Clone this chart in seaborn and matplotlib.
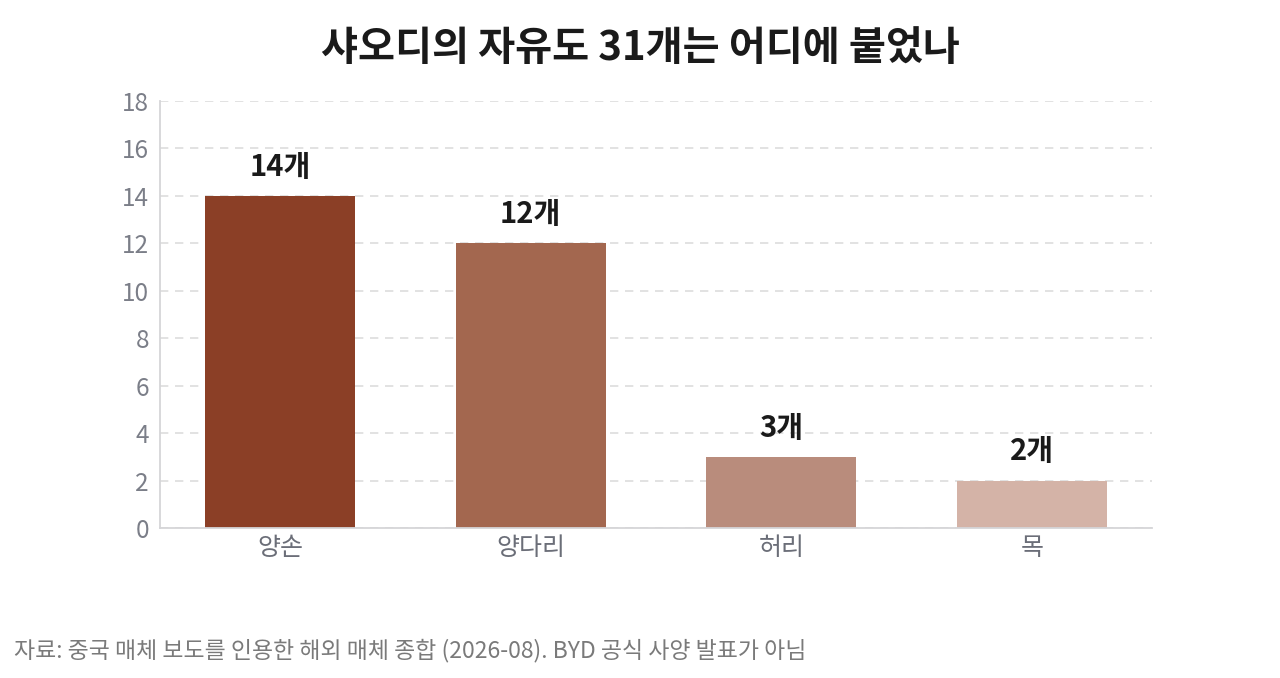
import matplotlib
matplotlib.use('Agg')
import matplotlib.pyplot as plt
import seaborn as sns
import pandas as pd

# Data
parts = ['양손', '양다리', '허리', '목']
counts = [14, 12, 3, 2]
colors = ['#8B3F26', '#A3674F', '#B98C7C', '#D4B3A7']
yticks = [0, 2, 4, 6, 8, 10, 12, 14, 16, 18]

df = pd.DataFrame({'part': parts, 'count': counts})

sns.set_theme(style='white')
plt.rcParams['font.family'] = ['Noto Sans CJK KR', 'DejaVu Sans']

fig = plt.figure(figsize=(12.8, 6.78), dpi=100)
ax = fig.add_axes([0.125, 0.2212, 0.775, 0.6298])

sns.barplot(data=df, x='part', y='count', hue='part', palette=colors,
            width=0.6, legend=False, ax=ax, saturation=1, linewidth=0, zorder=2)

ax.set_xlim(-0.48, 3.48)
ax.set_ylim(0, 18)
ax.set_yticks(yticks)
ax.yaxis.grid(True, linestyle=(0, (5, 4)), color='#DDDDDD', linewidth=1.2, zorder=0)
ax.set_axisbelow(True)

for i, v in enumerate(counts):
    ax.text(i, v + 0.6, f'{v}개', ha='center', va='bottom',
            fontsize=21, fontweight='bold', color='#1a1a1a')

ax.set_xlabel('')
ax.set_ylabel('')
ax.tick_params(axis='x', labelsize=18, colors='#6B6E78', length=0, pad=5)
ax.tick_params(axis='y', labelsize=17.5, colors='#7B7E88', length=0, pad=8)
for s in ['top', 'right']:
    ax.spines[s].set_visible(False)
for s in ['left', 'bottom']:
    ax.spines[s].set_color('#D5D5D8')
    ax.spines[s].set_linewidth(1.3)

fig.text(0.5, 0.928, '샤오디의 자유도 31개는 어디에 붙었나', ha='center', va='center',
         fontsize=29, fontweight='bold', color='#1a1a1a')
fig.text(0.011, 0.04, '자료: 중국 매체 보도를 인용한 해외 매체 종합 (2026-08). BYD 공식 사양 발표가 아님',
         ha='left', va='center', fontsize=16.5, color='#7A7A7A')

fig.savefig('out.png', dpi=100)
